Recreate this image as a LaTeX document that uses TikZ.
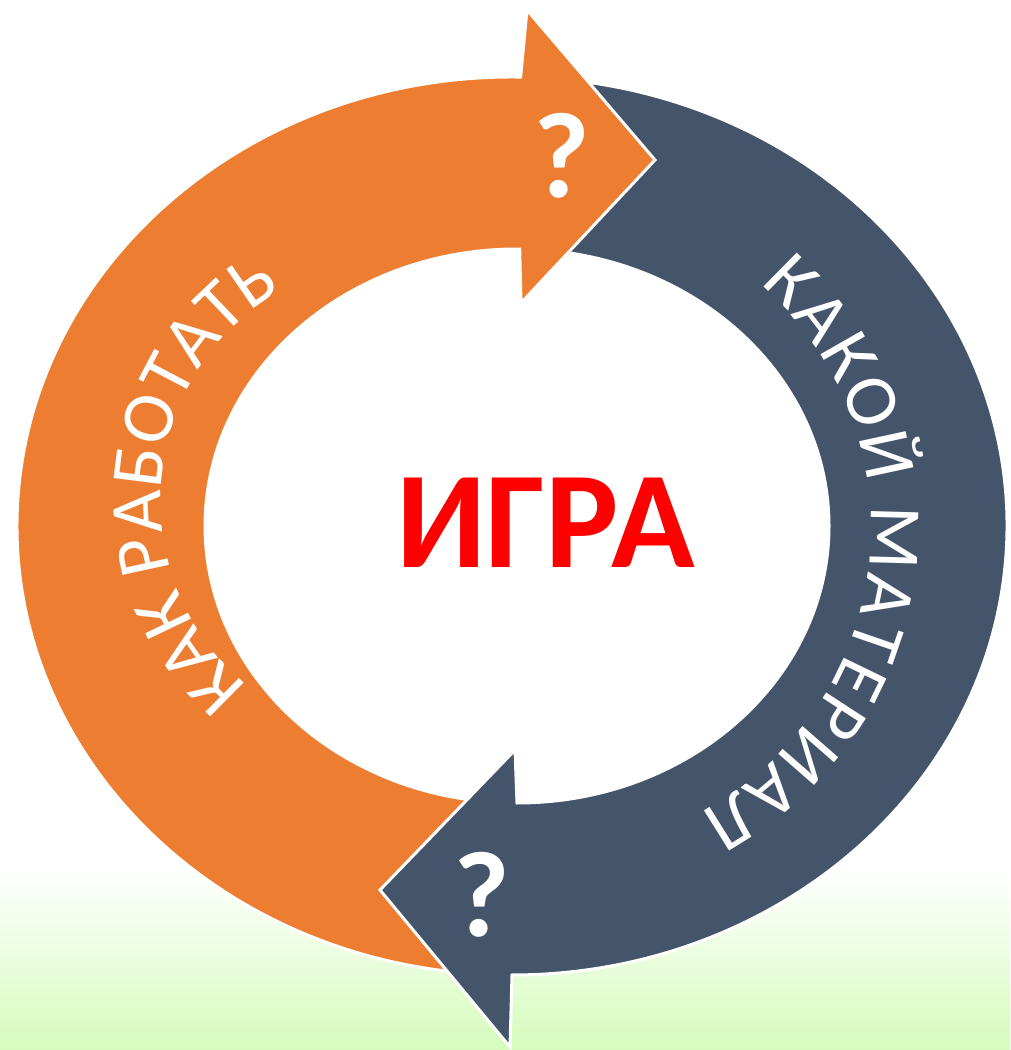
\documentclass[tikz,border=0pt]{standalone}
\usepackage{fontspec}
\setmainfont{Carlito}
\newfontfamily\arcfont{Carlito}
\usetikzlibrary{calc,decorations.text}
\definecolor{orangeA}{HTML}{ED7D31}
\definecolor{slateA}{HTML}{44546A}
\definecolor{bgGreen}{RGB}{213,252,188}
\begin{document}
\begin{tikzpicture}[x=1pt,y=1pt,
  orangearrow/.style={fill=orangeA, draw=white, line width=3pt, line join=miter},
  slatearrow/.style={fill=slateA, draw=white, line width=3pt, line join=miter},
  qmark/.style={text=white, font=\bfseries\fontsize{122}{122}\selectfont, inner sep=0pt, anchor=base},
  arclabel/.style={decorate, decoration={text along path, text color=white, text align=fit to path}}]
% background
\useasboundingbox (0,0) rectangle (1010,1050);
\fill[white] (0,0) rectangle (1010,1050);
\shade[top color=white, bottom color=bgGreen] (0,0) rectangle (1010,182);
% centres
\coordinate (O) at (512,524);
\coordinate (I) at (517,524);
\coordinate (L) at (404,550);
\coordinate (R) at (548,522);
% orange arrow (first layer)
\def\orangepath{($(O)+(266:495pt and 449pt)$) arc[start angle=266, end angle=89, x radius=495pt, y radius=449pt]
  -- (527,1040) -- (655,890) -- (521,747)
  -- ($(I)+(89.5:312pt and 277pt)$) arc[start angle=89.5, end angle=266, x radius=312pt, y radius=277pt] -- cycle}
\filldraw[orangearrow] \orangepath;
% slate arrow
\filldraw[slatearrow] ($(O)+(84:495pt and 449pt)$) arc[start angle=84, end angle=-90, x radius=495pt, y radius=449pt]
  -- (510,3) -- (380,160) -- (515,300)
  -- ($(I)+(-90:312pt and 277pt)$) arc[start angle=-90, end angle=84, x radius=312pt, y radius=277pt] -- cycle;
% orange head back on top of the slate tail
\begin{scope}
  \clip (505,690) rectangle (720,1050);
  \filldraw[orangearrow] \orangepath;
\end{scope}
% curved labels
\path[arclabel, decoration={text={|\arcfont\fontsize{74}{74}\selectfont|КАК РАБОТАТЬ}}]
  ($(L)+(230:243pt)$) arc[start angle=230, end angle=120, radius=243pt];
\path[arclabel, decoration={text={|\arcfont\fontsize{74}{74}\selectfont|КАКОЙ МАТЕРИАЛ}}]
  ($(R)+(49:323pt)$) arc[start angle=49, end angle=-62, radius=323pt];
% question marks
\node[qmark] (q1) at (561.5,852) {?};
\node[qmark] (q2) at (481.5,113) {?};
% centre word
\node[text=red, font=\bfseries\fontsize{138}{138}\selectfont, inner sep=0pt, anchor=base] (game) at (545.5,482) {ИГРА};
\end{tikzpicture}
\end{document}
